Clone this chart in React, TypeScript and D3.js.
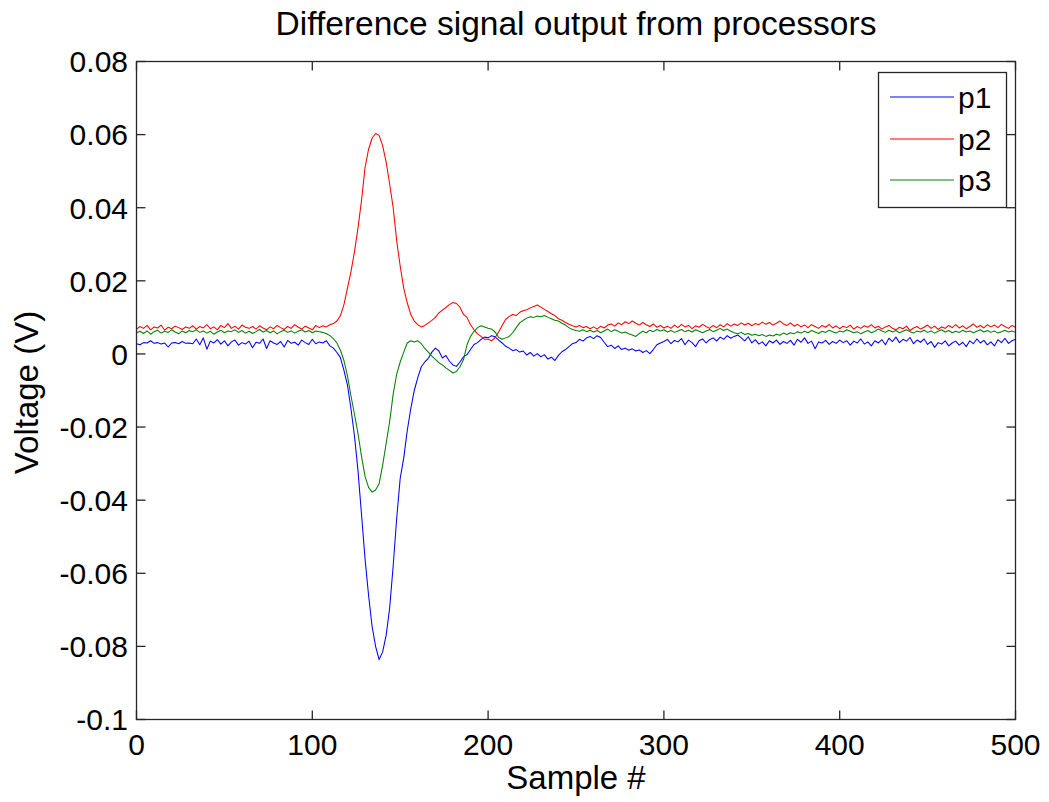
import React from "react";
import * as d3 from "d3";

// sample spacing of the stored readings (sample # = index * sampleStep)
const sampleStep = 2;

const seriesNames = ["p1", "p2", "p3"];
const seriesColors = ["#0000ff", "#ff0000", "#008000"];

// p1 (blue), volts, samples 0..500 step 2
const p1 = [
  0.0028, 0.0025, 0.0031, 0.0030, 0.0036, 0.0029, 0.0031, 0.0027, 0.0030, 0.0019,
  0.0030, 0.0031, 0.0028, 0.0034, 0.0029, 0.0030, 0.0028, 0.0041, 0.0025, 0.0044,
  0.0013, 0.0035, 0.0030, 0.0039, 0.0027, 0.0036, 0.0022, 0.0033, 0.0038, 0.0024,
  0.0031, 0.0027, 0.0035, 0.0017, 0.0032, 0.0029, 0.0041, 0.0015, 0.0036, 0.0030,
  0.0026, 0.0034, 0.0019, 0.0037, 0.0029, 0.0032, 0.0024, 0.0038, 0.0031, 0.0026,
  0.0040, 0.0028, 0.0033, 0.0030, 0.0036, 0.0022, 0.0016, 0.0004, -0.0010, -0.0045,
  -0.0085, -0.0150, -0.0225, -0.0320, -0.0440, -0.0560, -0.0660, -0.0745, -0.0800, -0.0836,
  -0.0815, -0.0770, -0.0695, -0.0580, -0.0450, -0.0340, -0.0285, -0.0210, -0.0150, -0.0100,
  -0.0065, -0.0035, -0.0022, -0.0012, 0.0005, 0.0016, 0.0008, -0.0011, -0.0004, -0.0020,
  -0.0030, -0.0034, -0.0022, -0.0008, -0.0002, 0.0012, 0.0026, 0.0031, 0.0040, 0.0046,
  0.0044, 0.0050, 0.0047, 0.0038, 0.0030, 0.0021, 0.0016, 0.0009, 0.0012, 0.0005,
  0.0008, -0.0003, 0.0004, -0.0006, 0.0001, -0.0008, -0.0002, -0.0014, -0.0009, -0.0018,
  -0.0004, 0.0006, 0.0012, 0.0020, 0.0028, 0.0031, 0.0040, 0.0035, 0.0044, 0.0048,
  0.0042, 0.0050, 0.0045, 0.0032, 0.0020, 0.0024, 0.0015, 0.0022, 0.0012, 0.0016,
  0.0010, 0.0014, 0.0008, 0.0011, 0.0004, 0.0009, 0.0001, 0.0012, 0.0025, 0.0030,
  0.0034, 0.0040, 0.0028, 0.0037, 0.0033, 0.0042, 0.0025, 0.0038, 0.0031, 0.0020,
  0.0036, 0.0041, 0.0030, 0.0039, 0.0044, 0.0035, 0.0046, 0.0040, 0.0050, 0.0043,
  0.0048, 0.0052, 0.0044, 0.0036, 0.0047, 0.0030, 0.0039, 0.0027, 0.0033, 0.0022,
  0.0036, 0.0030, 0.0038, 0.0026, 0.0034, 0.0029, 0.0037, 0.0024, 0.0040, 0.0032,
  0.0044, 0.0029, 0.0035, 0.0014, 0.0033, 0.0030, 0.0037, 0.0026, 0.0034, 0.0029,
  0.0038, 0.0031, 0.0036, 0.0024, 0.0035, 0.0030, 0.0041, 0.0027, 0.0033, 0.0022,
  0.0036, 0.0030, 0.0039, 0.0025, 0.0043, 0.0034, 0.0046, 0.0031, 0.0040, 0.0035,
  0.0045, 0.0028, 0.0038, 0.0032, 0.0041, 0.0026, 0.0034, 0.0018, 0.0031, 0.0027,
  0.0036, 0.0022, 0.0030, 0.0035, 0.0024, 0.0032, 0.0020, 0.0036, 0.0028, 0.0041,
  0.0030, 0.0037, 0.0025, 0.0033, 0.0022, 0.0039, 0.0031, 0.0043, 0.0029, 0.0036,
  0.0040,
];

// p2 (red)
const p2 = [
  0.0068, 0.0075, 0.0070, 0.0078, 0.0066, 0.0074, 0.0071, 0.0079, 0.0065, 0.0073,
  0.0069, 0.0076, 0.0072, 0.0067, 0.0074, 0.0070, 0.0077, 0.0068, 0.0075, 0.0071,
  0.0080, 0.0069, 0.0074, 0.0066, 0.0078, 0.0072, 0.0083, 0.0070, 0.0076, 0.0068,
  0.0079, 0.0073, 0.0070, 0.0075, 0.0068, 0.0077, 0.0071, 0.0066, 0.0074, 0.0069,
  0.0078, 0.0072, 0.0067, 0.0075, 0.0070, 0.0080, 0.0073, 0.0068, 0.0076, 0.0071,
  0.0066, 0.0078, 0.0072, 0.0077, 0.0074, 0.0080, 0.0083, 0.0090, 0.0105, 0.0135,
  0.0180, 0.0225, 0.0280, 0.0345, 0.0420, 0.0510, 0.0560, 0.0590, 0.0603, 0.0598,
  0.0570, 0.0525, 0.0465, 0.0400, 0.0310, 0.0240, 0.0180, 0.0140, 0.0108, 0.0090,
  0.0080, 0.0074, 0.0078, 0.0085, 0.0092, 0.0100, 0.0112, 0.0120, 0.0127, 0.0135,
  0.0141, 0.0138, 0.0128, 0.0108, 0.0100, 0.0080, 0.0066, 0.0055, 0.0048, 0.0040,
  0.0040, 0.0036, 0.0045, 0.0060, 0.0078, 0.0095, 0.0102, 0.0108, 0.0105, 0.0114,
  0.0118, 0.0121, 0.0126, 0.0130, 0.0134, 0.0128, 0.0122, 0.0116, 0.0110, 0.0105,
  0.0096, 0.0092, 0.0086, 0.0081, 0.0077, 0.0074, 0.0078, 0.0072, 0.0075, 0.0069,
  0.0074, 0.0068, 0.0076, 0.0071, 0.0079, 0.0082, 0.0076, 0.0085, 0.0080, 0.0088,
  0.0083, 0.0090, 0.0084, 0.0079, 0.0086, 0.0080, 0.0075, 0.0082, 0.0073, 0.0078,
  0.0071, 0.0076, 0.0070, 0.0079, 0.0072, 0.0081, 0.0074, 0.0078, 0.0069, 0.0077,
  0.0073, 0.0081, 0.0075, 0.0070, 0.0078, 0.0072, 0.0080, 0.0074, 0.0083, 0.0076,
  0.0082, 0.0078, 0.0085, 0.0079, 0.0084, 0.0077, 0.0083, 0.0080, 0.0087, 0.0081,
  0.0086, 0.0079, 0.0084, 0.0090, 0.0082, 0.0078, 0.0085, 0.0076, 0.0081, 0.0074,
  0.0079, 0.0072, 0.0080, 0.0075, 0.0070, 0.0078, 0.0073, 0.0081, 0.0071, 0.0077,
  0.0069, 0.0076, 0.0072, 0.0079, 0.0068, 0.0075, 0.0070, 0.0077, 0.0073, 0.0080,
  0.0071, 0.0076, 0.0068, 0.0074, 0.0078, 0.0070, 0.0066, 0.0073, 0.0069, 0.0076,
  0.0064, 0.0071, 0.0075, 0.0068, 0.0073, 0.0079, 0.0070, 0.0076, 0.0067, 0.0074,
  0.0070, 0.0078, 0.0072, 0.0080, 0.0071, 0.0077, 0.0069, 0.0075, 0.0082, 0.0073,
  0.0078, 0.0071, 0.0080, 0.0074, 0.0079, 0.0072, 0.0081, 0.0075, 0.0070, 0.0078,
  0.0073,
];

// p3 (green)
const p3 = [
  0.0058, 0.0062, 0.0056, 0.0063, 0.0054, 0.0061, 0.0065, 0.0057, 0.0062, 0.0059,
  0.0066, 0.0060, 0.0055, 0.0063, 0.0058, 0.0064, 0.0061, 0.0066, 0.0059, 0.0063,
  0.0057, 0.0062, 0.0054, 0.0060, 0.0065, 0.0058, 0.0063, 0.0061, 0.0066, 0.0059,
  0.0064, 0.0057, 0.0062, 0.0056, 0.0061, 0.0067, 0.0060, 0.0064, 0.0058, 0.0063,
  0.0055, 0.0061, 0.0065, 0.0059, 0.0063, 0.0057, 0.0062, 0.0066, 0.0060, 0.0064,
  0.0058, 0.0063, 0.0061, 0.0059, 0.0056, 0.0050, 0.0042, 0.0030, 0.0010, -0.0018,
  -0.0060, -0.0115, -0.0165, -0.0218, -0.0280, -0.0335, -0.0365, -0.0378, -0.0372, -0.0355,
  -0.0305, -0.0245, -0.0185, -0.0110, -0.0055, -0.0022, 0.0005, 0.0030, 0.0036, 0.0033,
  0.0036, 0.0028, 0.0015, 0.0005, -0.0006, -0.0015, -0.0024, -0.0030, -0.0038, -0.0045,
  -0.0052, -0.0048, -0.0035, -0.0016, 0.0025, 0.0048, 0.0062, 0.0072, 0.0077, 0.0074,
  0.0070, 0.0068, 0.0060, 0.0045, 0.0040, 0.0044, 0.0048, 0.0058, 0.0072, 0.0085,
  0.0092, 0.0098, 0.0102, 0.0100, 0.0104, 0.0102, 0.0105, 0.0100, 0.0096, 0.0092,
  0.0090, 0.0084, 0.0079, 0.0072, 0.0067, 0.0064, 0.0062, 0.0066, 0.0061, 0.0065,
  0.0060, 0.0064, 0.0058, 0.0063, 0.0068, 0.0061, 0.0066, 0.0062, 0.0057, 0.0060,
  0.0055, 0.0052, 0.0048, 0.0056, 0.0062, 0.0058, 0.0065, 0.0061, 0.0067, 0.0063,
  0.0066, 0.0060, 0.0064, 0.0059, 0.0063, 0.0067, 0.0061, 0.0065, 0.0060, 0.0066,
  0.0062, 0.0058, 0.0063, 0.0067, 0.0061, 0.0065, 0.0070, 0.0064, 0.0068, 0.0062,
  0.0058, 0.0055, 0.0059, 0.0053, 0.0056, 0.0051, 0.0054, 0.0050, 0.0053, 0.0048,
  0.0052, 0.0049, 0.0054, 0.0051, 0.0057, 0.0053, 0.0058, 0.0055, 0.0061, 0.0057,
  0.0062, 0.0058, 0.0064, 0.0060, 0.0056, 0.0062, 0.0059, 0.0065, 0.0061, 0.0057,
  0.0063, 0.0060, 0.0066, 0.0062, 0.0058, 0.0061, 0.0055, 0.0060, 0.0064, 0.0058,
  0.0062, 0.0068, 0.0063, 0.0059, 0.0065, 0.0060, 0.0064, 0.0058, 0.0062, 0.0066,
  0.0061, 0.0057, 0.0063, 0.0060, 0.0065, 0.0059, 0.0063, 0.0057, 0.0062, 0.0066,
  0.0060, 0.0064, 0.0058, 0.0062, 0.0059, 0.0065, 0.0060, 0.0063, 0.0058, 0.0062,
  0.0066, 0.0060, 0.0064, 0.0059, 0.0063, 0.0057, 0.0061, 0.0065, 0.0060, 0.0063,
  0.0059,
];

const xDomain = [0, 500];
const yDomain = [-0.1, 0.08];
const xTicks = [0, 100, 200, 300, 400, 500];
const yTicks = [-0.1, -0.08, -0.06, -0.04, -0.02, 0, 0.02, 0.04, 0.06, 0.08];
const yTickLabels = ["-0.1", "-0.08", "-0.06", "-0.04", "-0.02", "0", "0.02", "0.04", "0.06", "0.08"];

const titleText = "Difference signal output from processors";
const xLabel = "Sample #";
const yLabel = "Voltage (V)";

export default function App() {
  const W = 1049;
  const H = 802;
  const left = 136.5;
  const right = 1015.5;
  const top = 61.5;
  const bottom = 719.5;
  const font = "'Liberation Sans', Arial, Helvetica, sans-serif";
  const fs = 30;
  const labelFs = 33;
  const axisColor = "#262626";
  const tickLen = 9;

  const x = d3.scaleLinear().domain(xDomain).range([left, right]);
  const y = d3.scaleLinear().domain(yDomain).range([bottom, top]);

  const line = d3
    .line<number>()
    .x((_, i) => x(i * sampleStep))
    .y((d) => y(d));

  const allSeries = [p1, p2, p3];

  const legend = { x0: 878.5, y0: 72.5, x1: 1006.5, y1: 207.5 };
  const legendRows = [97, 139, 180];

  return (
    <svg
      width={W}
      height={H}
      style={{ position: "absolute", left: 0, top: 0, background: "#fff" }}
      fontFamily={font}
    >
      <rect x={0} y={0} width={W} height={H} fill="#fff" />
      {/* title */}
      <text x={(left + right) / 2} y={35} textAnchor="middle" fontSize={33.5} fill="#000">
        {titleText}
      </text>

      {/* series */}
      <g>
        {allSeries.map((s, k) => (
          <path key={k} d={line(s) || ""} fill="none" stroke={seriesColors[k]} strokeWidth={1.05} strokeLinejoin="round" />
        ))}
      </g>

      {/* axes box */}
      <rect x={left} y={top} width={right - left} height={bottom - top} fill="none" stroke={axisColor} strokeWidth={1.3} />

      {/* x ticks */}
      {xTicks.map((t) => (
        <g key={"xt" + t}>
          <line x1={x(t)} x2={x(t)} y1={bottom} y2={bottom - tickLen} stroke={axisColor} strokeWidth={1.3} />
          <line x1={x(t)} x2={x(t)} y1={top} y2={top + tickLen} stroke={axisColor} strokeWidth={1.3} />
          <text x={x(t)} y={755} textAnchor="middle" fontSize={fs} fill="#000">
            {String(t)}
          </text>
        </g>
      ))}

      {/* y ticks */}
      {yTicks.map((t, i) => (
        <g key={"yt" + i}>
          <line x1={left} x2={left + tickLen} y1={y(t)} y2={y(t)} stroke={axisColor} strokeWidth={1.3} />
          <line x1={right} x2={right - tickLen} y1={y(t)} y2={y(t)} stroke={axisColor} strokeWidth={1.3} />
          <text x={128} y={y(t)} dy="0.36em" textAnchor="end" fontSize={fs} fill="#000">
            {yTickLabels[i]}
          </text>
        </g>
      ))}

      {/* axis labels */}
      <text x={(left + right) / 2} y={789} textAnchor="middle" fontSize={labelFs} fill="#000">
        {xLabel}
      </text>
      <text
        transform={`translate(38, ${(top + bottom) / 2 + 2}) rotate(-90)`}
        textAnchor="middle"
        fontSize={labelFs}
        fill="#000"
      >
        {yLabel}
      </text>

      {/* legend */}
      <rect
        x={legend.x0}
        y={legend.y0}
        width={legend.x1 - legend.x0}
        height={legend.y1 - legend.y0}
        fill="#fff"
        stroke={axisColor}
        strokeWidth={1.3}
      />
      {seriesNames.map((n, k) => (
        <g key={n}>
          <line x1={890} x2={954} y1={legendRows[k]} y2={legendRows[k]} stroke={seriesColors[k]} strokeWidth={1.05} />
          <text x={958} y={legendRows[k]} dy="0.36em" fontSize={fs} fill="#000">
            {n}
          </text>
        </g>
      ))}
    </svg>
  );
}
